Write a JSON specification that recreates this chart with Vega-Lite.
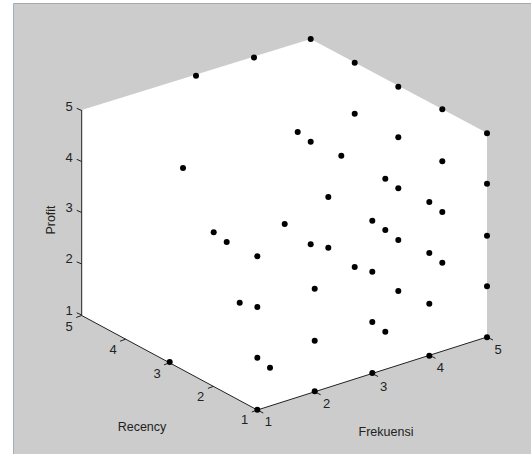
{"$schema":"https://vega.github.io/schema/vega-lite/v6.json","width":531,"height":454,"autosize":{"type":"none"},"padding":0,"background":"white","view":{"stroke":null},
"encoding":{"x":{"field":"x","type":"quantitative","scale":{"domain":[0,531],"nice":false,"zero":false},"axis":null},"y":{"field":"y","type":"quantitative","scale":{"domain":[454,0],"nice":false,"zero":false},"axis":null}},
"layer":[
{"data":{"values":[{"x":13.5,"x2":531,"y":4,"y2":454}]},"mark":{"type":"rect","fill":"#cccccc"},"encoding":{"x2":{"field":"x2"},"y2":{"field":"y2"}}},
{"data":{"values":[{"s":"top","x":13.5,"y":3.5},{"s":"top","x":531,"y":3.5}]},"mark":{"type":"line","stroke":"#a8a8a8","strokeWidth":1},"encoding":{"detail":{"field":"s"}}},
{"data":{"values":[{"s":"left","x":13.5,"y":3.5},{"s":"left","x":13.5,"y":454}]},"mark":{"type":"line","stroke":"#a3aebd","strokeWidth":1},"encoding":{"detail":{"field":"s"}}},
{"data":{"values":[{"x":81.7,"y":110,"y2":315.5},{"x":257.3,"y":55.5,"y2":410},{"x":310.7,"y":39,"y2":393},{"x":487,"y":133,"y2":337}]},"mark":{"type":"area","fill":"white","interpolate":"linear"},"encoding":{"y2":{"field":"y2"}}},
{"data":{"values":[
{"s":"profit","o":1,"x":81.7,"y":110},{"s":"profit","o":2,"x":81.7,"y":315.5},
{"s":"recency","o":1,"x":81.7,"y":315.5},{"s":"recency","o":2,"x":257.3,"y":410},
{"s":"frekuensi","o":1,"x":257.3,"y":410},{"s":"frekuensi","o":2,"x":487,"y":337},
{"s":"p5","o":1,"x":81.7,"y":110.5},{"s":"p5","o":2,"x":76.7,"y":108.3},
{"s":"p4","o":1,"x":81.7,"y":161.5},{"s":"p4","o":2,"x":76.7,"y":159.3},
{"s":"p3","o":1,"x":81.7,"y":212.5},{"s":"p3","o":2,"x":76.7,"y":210.3},
{"s":"p2","o":1,"x":81.7,"y":264},{"s":"p2","o":2,"x":76.7,"y":261.8},
{"s":"p1","o":1,"x":81.7,"y":315},{"s":"p1","o":2,"x":76.7,"y":312.8},
{"s":"r5","o":1,"x":81.7,"y":315.5},{"s":"r5","o":2,"x":76.2,"y":317.5},
{"s":"r4","o":1,"x":125.6,"y":339.2},{"s":"r4","o":2,"x":120.1,"y":341.2},
{"s":"r3","o":1,"x":169.5,"y":362.8},{"s":"r3","o":2,"x":164,"y":364.8},
{"s":"r2","o":1,"x":213.4,"y":386.4},{"s":"r2","o":2,"x":207.9,"y":388.4},
{"s":"r1","o":1,"x":257.3,"y":410},{"s":"r1","o":2,"x":251.8,"y":412},
{"s":"f1","o":1,"x":257.3,"y":410},{"s":"f1","o":2,"x":263.3,"y":413},
{"s":"f2","o":1,"x":314.7,"y":391.8},{"s":"f2","o":2,"x":320.7,"y":394.8},
{"s":"f3","o":1,"x":372.1,"y":373.5},{"s":"f3","o":2,"x":378.1,"y":376.5},
{"s":"f4","o":1,"x":429.5,"y":355.3},{"s":"f4","o":2,"x":435.5,"y":358.3},
{"s":"f5","o":1,"x":487,"y":337},{"s":"f5","o":2,"x":493,"y":340}
]},"mark":{"type":"line","stroke":"#222222","strokeWidth":1},"encoding":{"detail":{"field":"s"},"order":{"field":"o"}}},
{"data":{"values":[
{"x":196,"y":75.7},{"x":254,"y":57.5},{"x":183,"y":168},{"x":310.7,"y":39},{"x":354.7,"y":62.7},{"x":398.3,"y":86.7},{"x":442.3,"y":109.3},{"x":487,"y":133.3},{"x":354.7,"y":113.7},{"x":297.7,"y":132},{"x":310.7,"y":141.7},{"x":398.3,"y":137.3},{"x":341.3,"y":155.7},{"x":442.3,"y":161.3},{"x":385.3,"y":178.7},{"x":398.3,"y":188.3},{"x":487,"y":183.7},{"x":328.3,"y":197},{"x":429.3,"y":202},{"x":442.3,"y":212},{"x":284.7,"y":224},{"x":372.3,"y":220.7},{"x":385.3,"y":230},{"x":213.7,"y":232.3},{"x":226.7,"y":242},{"x":257.3,"y":256.3},{"x":239.7,"y":302.7},{"x":257.3,"y":307},{"x":257.3,"y":357.7},{"x":270,"y":367.7},{"x":169.7,"y":362},{"x":257.3,"y":409.7},{"x":398.3,"y":240},{"x":487,"y":235.7},{"x":310.7,"y":244.3},{"x":328.3,"y":247.7},{"x":429.3,"y":253},{"x":442.3,"y":262.7},{"x":354.7,"y":267},{"x":372.3,"y":271.7},{"x":487,"y":286.3},{"x":314.7,"y":288.7},{"x":398.3,"y":291},{"x":429.3,"y":303.7},{"x":372.3,"y":322},{"x":385.3,"y":331.7},{"x":314.7,"y":340.7},{"x":487,"y":337.3},{"x":429.3,"y":355.7},{"x":372.3,"y":373},{"x":314.7,"y":391.3}
]},"mark":{"type":"point","filled":true,"fill":"black","stroke":"black","strokeWidth":0,"opacity":1,"size":36,"shape":"circle"}},
{"data":{"values":[
{"t":"5","x":69,"y":107},{"t":"4","x":69,"y":158},{"t":"3","x":69,"y":208},{"t":"2","x":69,"y":259},{"t":"1","x":69,"y":311},
{"t":"5","x":69,"y":327},{"t":"4","x":113,"y":350},{"t":"3","x":157,"y":374},{"t":"2","x":200.5,"y":397},{"t":"1","x":244.7,"y":420},
{"t":"1","x":268.3,"y":422},{"t":"2","x":326.7,"y":404},{"t":"3","x":383.7,"y":386.7},{"t":"4","x":440.3,"y":368},{"t":"5","x":498,"y":350}
]},"mark":{"type":"text","font":"Liberation Sans","fontSize":13,"fill":"#222222","align":"center","baseline":"middle"},"encoding":{"text":{"field":"t"}}},
{"data":{"values":[{"t":"Recency","x":142,"y":427},{"t":"Frekuensi","x":386,"y":432}]},"mark":{"type":"text","font":"Liberation Sans","fontSize":12.5,"fill":"#222222","align":"center","baseline":"middle"},"encoding":{"text":{"field":"t"}}},
{"data":{"values":[{"t":"Profit","x":51,"y":220}]},"mark":{"type":"text","font":"Liberation Sans","fontSize":12.5,"fill":"#222222","align":"center","baseline":"middle","angle":270},"encoding":{"text":{"field":"t"}}}
]}
